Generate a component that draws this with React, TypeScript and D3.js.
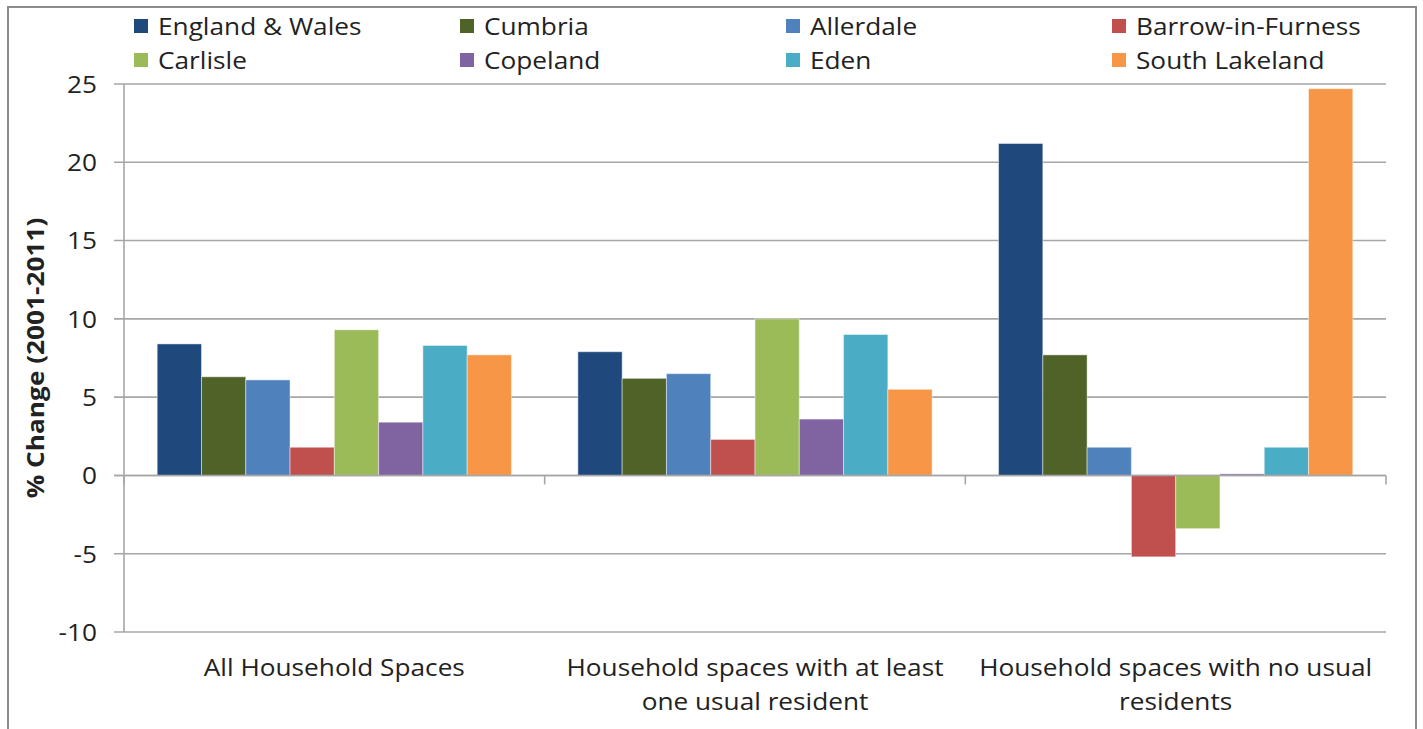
import React from "react";
import * as d3 from "d3";

// Household spaces, % change 2001-2011
const categories = [
  "All Household Spaces",
  "Household spaces with at least one usual resident",
  "Household spaces with no usual residents",
];

const seriesNames = [
  "England & Wales",
  "Cumbria",
  "Allerdale",
  "Barrow-in-Furness",
  "Carlisle",
  "Copeland",
  "Eden",
  "South Lakeland",
];

const seriesColors = [
  "#1F497D",
  "#4F6228",
  "#4F81BD",
  "#C0504D",
  "#9BBB59",
  "#8064A2",
  "#4BACC6",
  "#F79646",
];

// values per series, in category order
const englandWales = [8.4, 7.9, 21.2];
const cumbria = [6.3, 6.2, 7.7];
const allerdale = [6.1, 6.5, 1.8];
const barrow = [1.8, 2.3, -5.2];
const carlisle = [9.3, 10.0, -3.4];
const copeland = [3.4, 3.6, 0.1];
const eden = [8.3, 9.0, 1.8];
const southLakeland = [7.7, 5.5, 24.7];

const seriesValues = [
  englandWales,
  cumbria,
  allerdale,
  barrow,
  carlisle,
  copeland,
  eden,
  southLakeland,
];

const yTicks = [-10, -5, 0, 5, 10, 15, 20, 25];
const yTitle = "% Change (2001-2011)";

const W = 1423;
const H = 729;
const FONT = "'Open Sans', sans-serif";
const FS = 23;
const SX = 1.14;

function wrap(label: string, maxChars: number): string[] {
  const words = label.split(" ");
  const lines: string[] = [];
  let cur = "";
  for (const w of words) {
    const next = cur ? cur + " " + w : w;
    if (next.length > maxChars && cur) {
      lines.push(cur);
      cur = w;
    } else cur = next;
  }
  if (cur) lines.push(cur);
  return lines;
}

function SText(props: {
  x: number;
  y: number;
  anchor?: "start" | "middle" | "end";
  bold?: boolean;
  rotate?: number;
  baseline?: string;
  children: React.ReactNode;
}) {
  const { x, y, anchor = "start", bold, rotate = 0, baseline, children } = props;
  return (
    <text
      transform={`translate(${x},${y}) rotate(${rotate}) scale(${SX},1)`}
      textAnchor={anchor}
      dominantBaseline={baseline}
      fontFamily={FONT}
      fontSize={FS}
      fontWeight={bold ? 700 : 400}
      fill="#222"
    >
      {children}
    </text>
  );
}

export default function App() {
  const left = 124;
  const right = 1386;
  const top = 84;
  const bottom = 632;

  const y = d3.scaleLinear().domain([-10, 25]).range([bottom, top]);
  const x0 = d3.scaleBand<string>().domain(categories).range([left, right]).padding(0);
  const x1 = d3
    .scaleBand<string>()
    .domain(seriesNames)
    .range([0, x0.bandwidth()])
    .paddingInner(0)
    .paddingOuter(0.75);

  const gridColor = "#A6A6A6";
  const legendCols = [134, 460, 786, 1112];
  const legendRows = [26, 60];

  return (
    <svg
      width={W}
      height={H}
      style={{ position: "absolute", left: 0, top: 0, background: "#fff" }}
    >
      {/* outer frame */}
      <rect x={8} y={7} width={1408} height={760} fill="#fff" stroke="#8C8C8C" strokeWidth={2} />

      {/* gridlines and y tick labels */}
      {yTicks.map((t) => (
        <g key={t}>
          <line
            x1={left - 10}
            x2={right}
            y1={y(t)}
            y2={y(t)}
            stroke={gridColor}
            strokeWidth={1.6}
          />
          <SText x={97} y={y(t)} anchor="end" baseline="central">
            {t}
          </SText>
        </g>
      ))}

      {/* bars */}
      {seriesNames.map((s, si) => (
        <g key={s}>
          {categories.map((c, ci) => {
            const v = seriesValues[si][ci];
            const bx = (x0(c) as number) + (x1(s) as number);
            const y0 = y(0);
            const yv = y(v);
            return (
              <rect
                key={c}
                x={bx}
                y={Math.min(y0, yv)}
                width={x1.bandwidth()}
                height={Math.abs(y0 - yv)}
                fill={seriesColors[si]}
                stroke="rgba(255,255,255,0.45)"
                strokeWidth={1}
              />
            );
          })}
        </g>
      ))}

      {/* axes */}
      <line x1={left} x2={left} y1={top} y2={bottom} stroke={gridColor} strokeWidth={1.6} />
      <line x1={left - 10} x2={right} y1={y(0)} y2={y(0)} stroke={gridColor} strokeWidth={1.6} />
      {[...categories.map((c) => x0(c) as number), right].map((tx, i) => (
        <line
          key={i}
          x1={tx}
          x2={tx}
          y1={y(0)}
          y2={y(0) + 9}
          stroke={gridColor}
          strokeWidth={1.6}
        />
      ))}

      {/* category labels */}
      {categories.map((c) => {
        const cx = (x0(c) as number) + x0.bandwidth() / 2;
        return wrap(c, 30).map((line, li) => (
          <SText key={c + li} x={cx} y={676 + li * 34} anchor="middle">
            {line}
          </SText>
        ));
      })}

      {/* y axis title */}
      <SText x={35} y={(top + bottom) / 2} anchor="middle" bold rotate={-90} baseline="central">
        {yTitle}
      </SText>

      {/* legend */}
      {seriesNames.map((s, i) => {
        const lx = legendCols[i % 4];
        const ly = legendRows[Math.floor(i / 4)];
        return (
          <g key={s}>
            <rect x={lx} y={ly - 7} width={14} height={14} fill={seriesColors[i]} />
            <SText x={lx + 24} y={ly} baseline="central">
              {s}
            </SText>
          </g>
        );
      })}
    </svg>
  );
}
